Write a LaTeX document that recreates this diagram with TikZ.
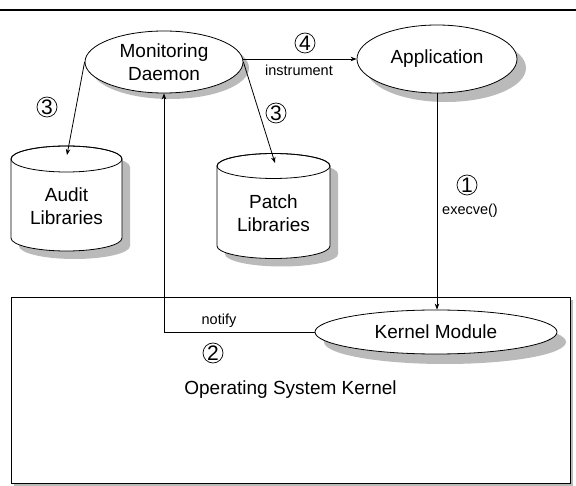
\documentclass[tikz,border=0pt]{standalone}
\usepackage{fontspec}
\setmainfont{Liberation Sans}
\usetikzlibrary{shapes.geometric,arrows.meta,shadows,calc}
\newcommand\drawcyl[5]{%
  \fill[shd] ({#1-#4+8},{#2-8}) -- ({#1-#4+8},{#3-8})
     arc[start angle=180, end angle=360, x radius=#4pt, y radius=#5pt]
     -- ({#1+#4+8},{#2-8})
     arc[start angle=0, end angle=180, x radius=#4pt, y radius=#5pt] -- cycle;
  \filldraw[fill=white] ({#1-#4},{#2}) -- ({#1-#4},{#3})
     arc[start angle=180, end angle=360, x radius=#4pt, y radius=#5pt]
     -- ({#1+#4},{#2})
     arc[start angle=0, end angle=180, x radius=#4pt, y radius=#5pt] -- cycle;
  \draw (#1,#2) ellipse[x radius=#4pt, y radius=#5pt];
}
\begin{document}
\begin{tikzpicture}[x=1pt,y=1pt,
  line width=0.8pt,
  >={Stealth[length=6pt,width=4.5pt]},
  big/.style={font=\fontsize{19}{23}\selectfont},
  small/.style={font=\fontsize{14.5}{17}\selectfont},
  oval/.style={ellipse, draw, fill=white, inner sep=0pt, big, align=center},
  shd/.style={fill=black!27, draw=none},
  num/.style={circle, draw, line width=0.7pt, inner sep=0pt, minimum size=20pt, font=\fontsize{21}{21}\selectfont},
]
\useasboundingbox (0,0) rectangle (576,485);
\draw[line width=2pt] (0,475) -- (576,475);

% operating system kernel box
\fill[shd] (14,-1) rectangle (573,185);
\node[draw, fill=white, minimum width=559pt, minimum height=186pt, inner sep=0pt, big] (os) at (290.5,95) {Operating System Kernel};

% ellipses
\node[oval, minimum width=158pt, minimum height=62pt,
  drop shadow={shadow xshift=6pt, shadow yshift=-6pt, fill=black!27, opacity=1}] (md) at (164,423) {Monitoring\\Daemon};
\node[oval, minimum width=160pt, minimum height=68pt,
  drop shadow={shadow xshift=9pt, shadow yshift=-9pt, fill=black!27, opacity=1}] (app) at (437,426) {Application};
\node[oval, minimum width=242pt, minimum height=44pt,
  drop shadow={shadow xshift=9pt, shadow yshift=-10pt, fill=black!27, opacity=1}] (km) at (436,153) {Kernel Module};

% cylinders
\drawcyl{66.5}{326}{247}{55.5}{13}
\node[big, align=center] (aud) at (66.5,278.5) {Audit\\Libraries};
\drawcyl{273.5}{319}{239}{56.5}{12.5}
\node[big, align=center] (pat) at (273.5,271.5) {Patch\\Libraries};
\coordinate (audtop) at (67,330);
\coordinate (pattop) at (275,322);

% connectors
\draw[->] (md.west) -- (audtop);
\draw[->] (md.east) -- (pattop);
\draw[->] (app.west -| md.east) -- (app.west);
\draw[->] (app.south) -- (app.south |- km.north);
\draw[->] (km.west) -| (md.south);

% labels
\node[num] (n3a) at (47,378) {3};
\node[num] (n3b) at (276,372) {3};
\node[num] (n4) at (305,442) {4};
\node[num] (n1) at (467,300) {1};
\node[num] (n2) at (213,132) {2};
\node[small] (linstr) at (299,415) {instrument};
\node[small] (lexec) at (470,274) {execve()};
\node[small] (lnotify) at (219,164) {notify};
\end{tikzpicture}
\end{document}
